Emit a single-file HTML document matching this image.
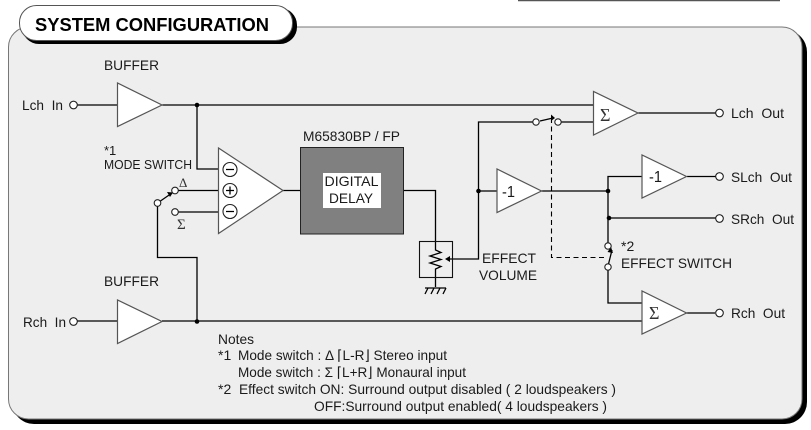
<!DOCTYPE html>
<html>
<head>
<meta charset="utf-8">
<style>
html,body{margin:0;padding:0;background:#fff;}
svg{display:block;}
text{font-family:"Liberation Sans",Arial,sans-serif;font-size:14px;fill:#1a1a1a;white-space:pre;}
.l{fill:none;stroke:#000;stroke-width:1.3;}
.t{fill:#fff;stroke:#555;stroke-width:1.2;}
.c{fill:#fff;stroke:#222;stroke-width:1.1;}
.d{fill:#000;}
.g{font-family:"Liberation Serif",serif;fill:#333;}
</style>
</head>
<body>
<svg width="811" height="430" viewBox="0 0 811 430" xmlns="http://www.w3.org/2000/svg">
<rect width="811" height="430" fill="#fff"/>
<line x1="518" y1="0.5" x2="780" y2="0.5" stroke="#555" stroke-width="1.4"/>
<!-- panel -->
<rect x="12" y="30" width="795" height="394" rx="22" fill="#000"/>
<rect x="8.5" y="27" width="793.5" height="392" rx="20" fill="#eee" stroke="#777" stroke-width="1"/>
<!-- title -->
<rect x="22" y="8" width="275" height="36" rx="17" fill="#000"/>
<rect x="19.5" y="5.5" width="273" height="35" rx="17" fill="#fff" stroke="#555" stroke-width="1"/>
<text x="35" y="31" style="font-size:18px;font-weight:bold;fill:#000" textLength="234" lengthAdjust="spacingAndGlyphs">SYSTEM CONFIGURATION</text>

<!-- wires -->
<path class="l" d="M77 105H117M162 105H593.5M197 105V169H218.5"/>
<path class="l" d="M77 321H117M162 321H642M197 321V257.5H157.5V206.5"/>
<path class="l" d="M159 202L172 193M178.500 190.500H218.500M178.500 212H218.500"/>
<path class="l" d="M283 190.500H300M403.500 190.500H435.500V242"/>
<path class="l" d="M435.500 277V287"/>
<path class="l" d="M447 259H478.500V122H536M540 121L553 118M561 122H593.500M638 113H716"/>
<path class="l" d="M478.500 191H497M541.500 191H608"/>
<path class="l" d="M642 176.500H608V243M687 176.500H716M608.500 218H716"/>
<path class="l" d="M608 270V303H642M686 313H715"/>
<path class="l" d="M608.500 264L612 250"/>
<path d="M551.500 118V257.500H606" fill="none" stroke="#000" stroke-width="1.1" stroke-dasharray="5 3.500"/>

<!-- arrowheads on switches -->
<path class="d" d="M173 192.500L167 192L170 197Z"/>
<path class="d" d="M555 118L551 114.500L551 121Z"/>
<path class="d" d="M611 247L607.500 252L613 253Z"/>
<path class="d" d="M445 259L450 256V262Z"/>

<!-- triangles -->
<polygon class="t" points="117.500,83 117.500,126.500 162,105"/>
<polygon class="t" points="117.500,300 117.500,343.500 162,321.500"/>
<polygon class="t" points="218.500,148 218.500,233.500 283,190.500"/>
<polygon class="t" points="593.500,91.500 593.500,135 638,113"/>
<polygon class="t" points="497,169 497,212.500 541.500,191"/>
<polygon class="t" points="642,155 642,198 686.500,176.500"/>
<polygon class="t" points="642,291 642,334 686.500,313"/>

<!-- op amp inputs -->
<circle class="c" cx="230" cy="169.500" r="7"/>
<circle class="c" cx="230" cy="190.500" r="7"/>
<circle class="c" cx="230" cy="211.500" r="7"/>
<path class="l" d="M226 169.500H234M226 190.500H234M230 186.500V194.500M226 211.500H234" stroke-width="1"/>

<!-- delay box -->
<rect x="300.500" y="147.500" width="103" height="86.500" fill="#808080" stroke="#222" stroke-width="1"/>
<rect x="323" y="173" width="58" height="35" fill="#fff"/>
<text x="324.500" y="186" textLength="54" lengthAdjust="spacingAndGlyphs">DIGITAL</text>
<text x="329" y="203" textLength="44" lengthAdjust="spacingAndGlyphs">DELAY</text>

<!-- pot -->
<rect x="419.500" y="241.500" width="33" height="36" fill="none" stroke="#111" stroke-width="1.1"/>
<path class="l" d="M435.500 242V250L441 252.500L430 256L441 259.500L430 263L441 266.500L435.500 269V277"/>
<path class="l" d="M425 288H446M428 288L425 294M434 288L431 294M440 288L437 294M446 288L443 294" stroke-width="1"/>

<!-- dots -->
<circle class="d" cx="197" cy="105" r="2.300"/>
<circle class="d" cx="197" cy="321.500" r="2.300"/>
<circle class="d" cx="478.500" cy="191" r="2.300"/>
<circle class="d" cx="608" cy="191" r="2.300"/>
<circle class="d" cx="609" cy="218" r="2.300"/>

<!-- terminals -->
<circle class="c" cx="73.500" cy="105" r="3.800"/>
<circle class="c" cx="73.500" cy="321.500" r="3.800"/>
<circle class="c" cx="719.500" cy="113" r="3.800"/>
<circle class="c" cx="719.500" cy="176.500" r="3.800"/>
<circle class="c" cx="719.500" cy="218.500" r="3.800"/>
<circle class="c" cx="719.500" cy="313" r="3.800"/>
<circle class="c" cx="157.500" cy="203" r="3.300"/>
<circle class="c" cx="175" cy="190.500" r="3.300"/>
<circle class="c" cx="175" cy="212" r="3.300"/>
<circle class="c" cx="536" cy="122" r="3.200"/>
<circle class="c" cx="558" cy="122" r="3.200"/>
<circle class="c" cx="608" cy="246" r="3.200"/>
<circle class="c" cx="608" cy="267" r="3.200"/>

<!-- labels -->
<text x="104" y="70" textLength="55" lengthAdjust="spacingAndGlyphs">BUFFER</text>
<text x="104" y="286" textLength="55" lengthAdjust="spacingAndGlyphs">BUFFER</text>
<text x="22" y="110" textLength="41" lengthAdjust="spacingAndGlyphs">Lch  In</text>
<text x="23" y="327" textLength="43" lengthAdjust="spacingAndGlyphs">Rch  In</text>
<text x="104" y="155" style="font-size:13px">*1</text>
<text x="104" y="169" style="font-size:13px" textLength="88" lengthAdjust="spacingAndGlyphs">MODE SWITCH</text>
<text x="179" y="187" class="g" style="font-size:13px">Δ</text>
<text x="177" y="229" class="g" style="font-size:15px">Σ</text>
<text x="303" y="141" textLength="97" lengthAdjust="spacingAndGlyphs">M65830BP / FP</text>
<text x="482" y="263" textLength="54" lengthAdjust="spacingAndGlyphs">EFFECT</text>
<text x="479" y="280" textLength="58" lengthAdjust="spacingAndGlyphs">VOLUME</text>
<text x="600" y="121" class="g" style="font-size:18px">Σ</text>
<text x="502" y="197" style="font-size:16px" textLength="13" lengthAdjust="spacingAndGlyphs">-1</text>
<text x="649" y="182" style="font-size:16px" textLength="13" lengthAdjust="spacingAndGlyphs">-1</text>
<text x="649" y="319" class="g" style="font-size:18px">Σ</text>
<text x="731" y="118" textLength="53" lengthAdjust="spacingAndGlyphs">Lch  Out</text>
<text x="731" y="182" textLength="61" lengthAdjust="spacingAndGlyphs">SLch  Out</text>
<text x="731" y="224" textLength="63" lengthAdjust="spacingAndGlyphs">SRch  Out</text>
<text x="731" y="318" textLength="54" lengthAdjust="spacingAndGlyphs">Rch  Out</text>
<text x="621" y="251" style="font-size:14px">*2</text>
<text x="621" y="268" textLength="111" lengthAdjust="spacingAndGlyphs">EFFECT SWITCH</text>

<!-- notes -->
<text x="218" y="344" textLength="36" lengthAdjust="spacingAndGlyphs">Notes</text>
<text x="218" y="360">*1</text>
<text x="238" y="360" textLength="209" lengthAdjust="spacingAndGlyphs">Mode switch : Δ ⌈L-R⌋ Stereo input</text>
<text x="238" y="377" textLength="228" lengthAdjust="spacingAndGlyphs">Mode switch : Σ ⌈L+R⌋ Monaural input</text>
<text x="218" y="394">*2</text>
<text x="239" y="394" textLength="377" lengthAdjust="spacingAndGlyphs">Effect switch ON: Surround output disabled ( 2 loudspeakers )</text>
<text x="314" y="411" textLength="293" lengthAdjust="spacingAndGlyphs">OFF:Surround output enabled( 4 loudspeakers )</text>
</svg>
</body>
</html>
